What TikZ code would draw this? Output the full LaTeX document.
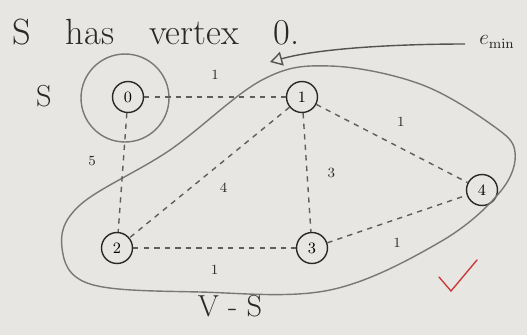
\documentclass[tikz,border=0pt]{standalone}
\usepackage{amsmath,amssymb}
\usepackage{xcolor}
\usetikzlibrary{arrows.meta,positioning,calc}
\definecolor{paper}{RGB}{232, 230, 226}
\definecolor{pencil}{RGB}{40, 40, 40}
\definecolor{softpencil}{RGB}{120, 120, 118}
\definecolor{redmark}{RGB}{200, 60, 60}

\begin{document}
\begin{tikzpicture}[x=0.02cm, y=-0.02cm,
    vtx/.style={circle, draw=pencil, thick, minimum size=6.2mm, inner sep=0pt, font=\small},
    edg/.style={pencil!75, dashed, thick},
    wgt/.style={font=\footnotesize, text=pencil}]
  % PAPER
  \fill[paper] (0,0) rectangle (527,335);
  \useasboundingbox (0,0) rectangle (527,335);
  % HEADER
  \node[font=\huge, text=pencil, anchor=west] (head) at (6,32)
    {S\hspace{0.7cm}has\hspace{0.7cm}vertex\hspace{0.7cm}0.};
  \node[font=\LARGE, text=pencil] (sname) at (44,96) {S};
  \node[font=\large, text=pencil] (emin) at (497,42) {$e_{\min}$};
  % VERTICES
  \node[vtx] (v0) at (128,97) {0};
  \node[vtx] (v1) at (302,97) {1};
  \node[vtx] (v2) at (117,248) {2};
  \node[vtx] (v3) at (312,248) {3};
  \node[vtx] (v4) at (482,190) {4};
  % SET S
  \node[circle, draw=softpencil, thick, minimum size=17.6mm] (setS) at (125,98) {};
  % SET V - S
  \draw[softpencil, thick] plot[smooth cycle, tension=0.6] coordinates {
    (262,80) (330,66) (420,84) (492,125) (515,152) (500,192)
    (440,242) (330,290) (200,292) (90,284) (62,248) (80,205) (170,150)};
  \node[font=\LARGE, text=pencil] (rest) at (230,306) {V - S};
  % EDGES
  \draw[edg] (v0) -- node[wgt, above=6pt] {1} (v1);
  \draw[edg] (v0) -- node[wgt, pos=0.4, left=12pt] {5} (v2);
  \draw[edg] (v1) -- node[wgt, pos=0.5, below right=3pt] {4} (v2);
  \draw[edg] (v1) -- node[wgt, pos=0.5, right=8pt] {3} (v3);
  \draw[edg] (v1) -- node[wgt, pos=0.45, above right=5pt] {1} (v4);
  \draw[edg] (v2) -- node[wgt, below=6pt] {1} (v3);
  \draw[edg] (v3) -- node[wgt, pos=0.5, below=7pt] {1} (v4);
  % POINTER TO e_min
  \coordinate (tip) at (270,62);
  \draw[-{Triangle[open, length=7pt, width=8pt]}, pencil!80, thick]
    (emin.west) ++(-8,2) .. controls (400,44) and (320,48) .. (tip);
  % CHECK MARK
  \draw[redmark, thick, line cap=round] (439,277) -- (451,291) -- (477,260);
\end{tikzpicture}
\end{document}
